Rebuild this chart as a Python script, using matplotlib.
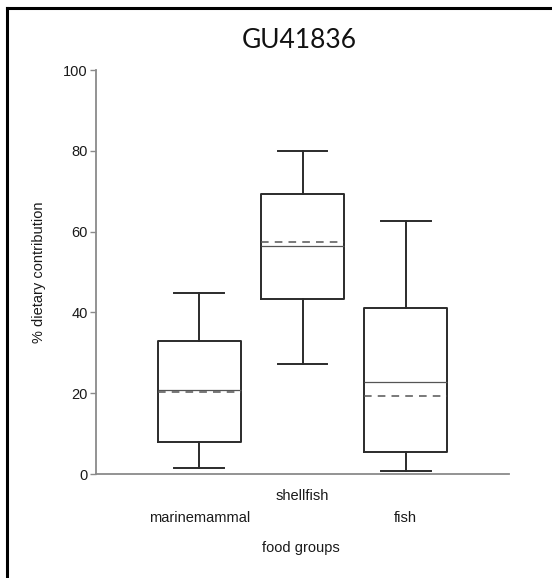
import matplotlib
matplotlib.use('Agg')
import matplotlib.pyplot as plt
from matplotlib.lines import Line2D

plt.rcParams['font.family'] = ['Liberation Sans', 'DejaVu Sans']

# box summaries per food group (% dietary contribution)
groups = ['marinemammal', 'shellfish', 'fish']
whis_lo = [1.5, 27.2, 0.8]
q1 = [7.9, 43.3, 5.5]
medians = [20.8, 56.4, 22.8]
means = [20.3, 57.4, 19.4]
q3 = [32.9, 69.4, 41.1]
whis_hi = [44.8, 80.0, 62.6]
yticks = [0, 20, 40, 60, 80, 100]

stats = []
for i, g in enumerate(groups):
    stats.append(dict(label=g, whislo=whis_lo[i], q1=q1[i], med=medians[i],
                      mean=means[i], q3=q3[i], whishi=whis_hi[i], fliers=[]))

W, H = 552, 578
fig = plt.figure(figsize=(W / 100, H / 100), dpi=100)
ax = fig.add_axes([96 / W, 1 - 474 / H, (509 - 96) / W, (474 - 70) / H])

dark = '#2b2b2b'
ax.bxp(stats, positions=[1, 2, 3], widths=0.8, capwidths=0.48,
       showmeans=True, meanline=True, showfliers=False, patch_artist=False,
       boxprops=dict(color=dark, linewidth=1.4),
       whiskerprops=dict(color=dark, linewidth=1.4),
       capprops=dict(color=dark, linewidth=1.4),
       medianprops=dict(color='#555555', linewidth=0.9),
       meanprops=dict(color='#555555', linewidth=1.1, linestyle=(0, (5, 4))))

ax.set_xlim(0, 4)
ax.set_ylim(0, 100)
ax.set_yticks(yticks)
for side in ['top', 'right']:
    ax.spines[side].set_visible(False)
for side in ['left', 'bottom']:
    ax.spines[side].set_color('#8a8a8a')
    ax.spines[side].set_linewidth(1.3)

ax.tick_params(axis='y', colors='#8a8a8a', length=4, width=1, pad=2,
               labelsize=10.5, labelcolor='#1a1a1a')
ax.tick_params(axis='x', length=0, labelsize=10.5, labelcolor='#1a1a1a')
ax.set_xticks([1, 2, 3])
ax.set_xticklabels(groups)
# stagger the category labels
for tick, pad in zip(ax.xaxis.get_major_ticks(), [27, 10.5, 27]):
    tick.set_pad(pad)

ax.set_ylabel('% dietary contribution', fontsize=10.5, color='#1a1a1a', labelpad=12)
fig.text(301 / W, 1 - 548 / H, 'food groups', ha='center', va='center',
         fontsize=10.5, color='#1a1a1a')

fig.text(299 / W, 1 - 41 / H, 'GU41836', ha='center', va='center',
         fontsize=19, family=['Lato', 'DejaVu Sans'], color='#111111')

# outer frame, clipped on the right and bottom
fig.add_artist(Line2D([7 / W, 1], [1 - 8 / H, 1 - 8 / H], color='black', linewidth=2.2,
                      transform=fig.transFigure))
fig.add_artist(Line2D([7 / W, 7 / W], [0, 1 - 8 / H], color='black', linewidth=2.2,
                      transform=fig.transFigure))

fig.savefig('out.png', dpi=100, facecolor='white')
